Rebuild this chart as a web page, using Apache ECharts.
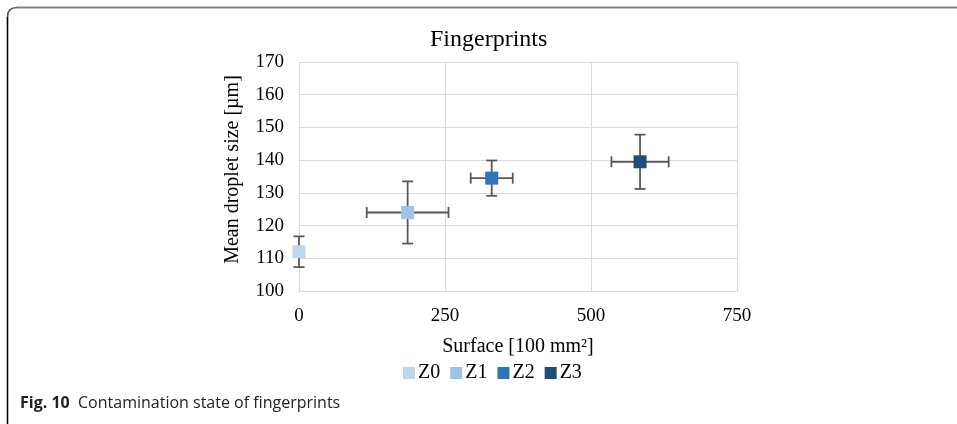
<!DOCTYPE html>
<html>
<head>
<meta charset="utf-8">
<script src="https://cdn.jsdelivr.net/npm/echarts@6/dist/echarts.min.js"></script>
<style>
html,body{margin:0;padding:0;background:#fff;}
#chart{width:957px;height:424px;}
</style>
</head>
<body>
<div id="chart"></div>
<script>
// Data
const seriesNames = ['Z0', 'Z1', 'Z2', 'Z3'];
const surface = [0, 186, 330, 584];
const surfaceErr = [0, 70, 36, 49];
const dropletSize = [112, 124, 134.5, 139.5];
const dropletErr = [4.7, 9.5, 5.4, 8.3];
const colors = ['#BDD7EE', '#9DC3E6', '#2E75B6', '#1F4E79'];
const xTicks = [0, 250, 500, 750];
const yTicks = [100, 110, 120, 130, 140, 150, 160, 170];

const chart = echarts.init(document.getElementById('chart'));
const serif = '"Liberation Serif", "Times New Roman", serif';

const errData = surface.map((x, i) => [x, dropletSize[i], surfaceErr[i], dropletErr[i]]);

const series = [{
  type: 'custom',
  name: 'err',
  z: 1,
  silent: true,
  data: errData,
  renderItem: function (params, api) {
    const x = api.value(0), y = api.value(1), ex = api.value(2), ey = api.value(3);
    const c = api.coord([x, y]);
    const top = api.coord([x, y + ey]);
    const bot = api.coord([x, y - ey]);
    const lft = api.coord([x - ex, y]);
    const rgt = api.coord([x + ex, y]);
    const cap = 5.5;
    const st = {stroke: '#595959', lineWidth: 1.8};
    const children = [
      {type: 'line', shape: {x1: c[0], y1: top[1], x2: c[0], y2: bot[1]}, style: st},
      {type: 'line', shape: {x1: c[0] - cap, y1: top[1], x2: c[0] + cap, y2: top[1]}, style: st},
      {type: 'line', shape: {x1: c[0] - cap, y1: bot[1], x2: c[0] + cap, y2: bot[1]}, style: st}
    ];
    if (ex > 0) {
      children.push(
        {type: 'line', shape: {x1: lft[0], y1: c[1], x2: rgt[0], y2: c[1]}, style: st},
        {type: 'line', shape: {x1: lft[0], y1: c[1] - cap, x2: lft[0], y2: c[1] + cap}, style: st},
        {type: 'line', shape: {x1: rgt[0], y1: c[1] - cap, x2: rgt[0], y2: c[1] + cap}, style: st}
      );
    }
    return {type: 'group', children: children};
  }
}];
seriesNames.forEach((n, i) => {
  series.push({
    type: 'scatter',
    name: n,
    z: 3,
    symbol: 'rect',
    symbolSize: 13,
    itemStyle: {color: colors[i], opacity: 1},
    data: [[surface[i], dropletSize[i]]]
  });
});

chart.setOption({
  animation: false,
  title: {
    text: 'Fingerprints',
    left: 425, top: 23,
    textStyle: {fontFamily: serif, fontSize: 24, fontWeight: 'normal', color: '#000'}
  },
  legend: {
    data: seriesNames,
    left: 398, top: 358,
    itemWidth: 12, itemHeight: 12, itemGap: 10,
    icon: 'rect',
    textStyle: {fontFamily: serif, fontSize: 20, color: '#000', padding: [0, 0, 0, -2]}
  },
  grid: {left: 299, right: 220, top: 62, bottom: 133, containLabel: false},
  xAxis: {
    type: 'value', min: 0, max: 750, interval: 250,
    name: 'Surface [100 mm²]', nameLocation: 'middle', nameGap: 46,
    nameTextStyle: {fontFamily: serif, fontSize: 20, color: '#000'},
    axisLine: {show: true, lineStyle: {color: '#d9d9d9', width: 1}},
    axisTick: {show: false},
    axisLabel: {fontFamily: serif, fontSize: 19, color: '#000', margin: 16},
    splitLine: {show: true, lineStyle: {color: '#d9d9d9', width: 1}}
  },
  yAxis: {
    type: 'value', min: 100, max: 170, interval: 10,
    name: 'Mean droplet size [µm]', nameLocation: 'middle', nameGap: 56,
    nameTextStyle: {fontFamily: serif, fontSize: 20, color: '#000', padding: [0, 0, 0, 14]},
    axisLine: {show: true, lineStyle: {color: '#d9d9d9', width: 1}},
    axisTick: {show: false},
    axisLabel: {fontFamily: serif, fontSize: 19, color: '#000', margin: 15},
    splitLine: {show: true, lineStyle: {color: '#d9d9d9', width: 1}}
  },
  graphic: [
    {type: 'line', shape: {x1: 17, y1: 7.5, x2: 957, y2: 7.5}, style: {stroke: '#808080', lineWidth: 2}},
    {type: 'bezierCurve', shape: {x1: 17, y1: 7.5, cpx1: 7.5, cpy1: 7.5, x2: 7.5, y2: 17}, style: {stroke: '#555', lineWidth: 1.6, fill: null}},
    {type: 'line', shape: {x1: 7.5, y1: 17, x2: 7.5, y2: 424}, style: {stroke: '#000', lineWidth: 1.6}},
    {
      type: 'text', left: 20, top: 395,
      style: {
        text: '{b|Fig. 10}  Contamination state of fingerprints',
        fontFamily: '"Open Sans", "Noto Sans", sans-serif', fontSize: 16, fill: '#222',
        rich: {b: {fontFamily: '"Open Sans", "Noto Sans", sans-serif', fontSize: 16, fontWeight: 'bold', fill: '#222'}}
      }
    }
  ],
  series: series
});
</script>
</body>
</html>
